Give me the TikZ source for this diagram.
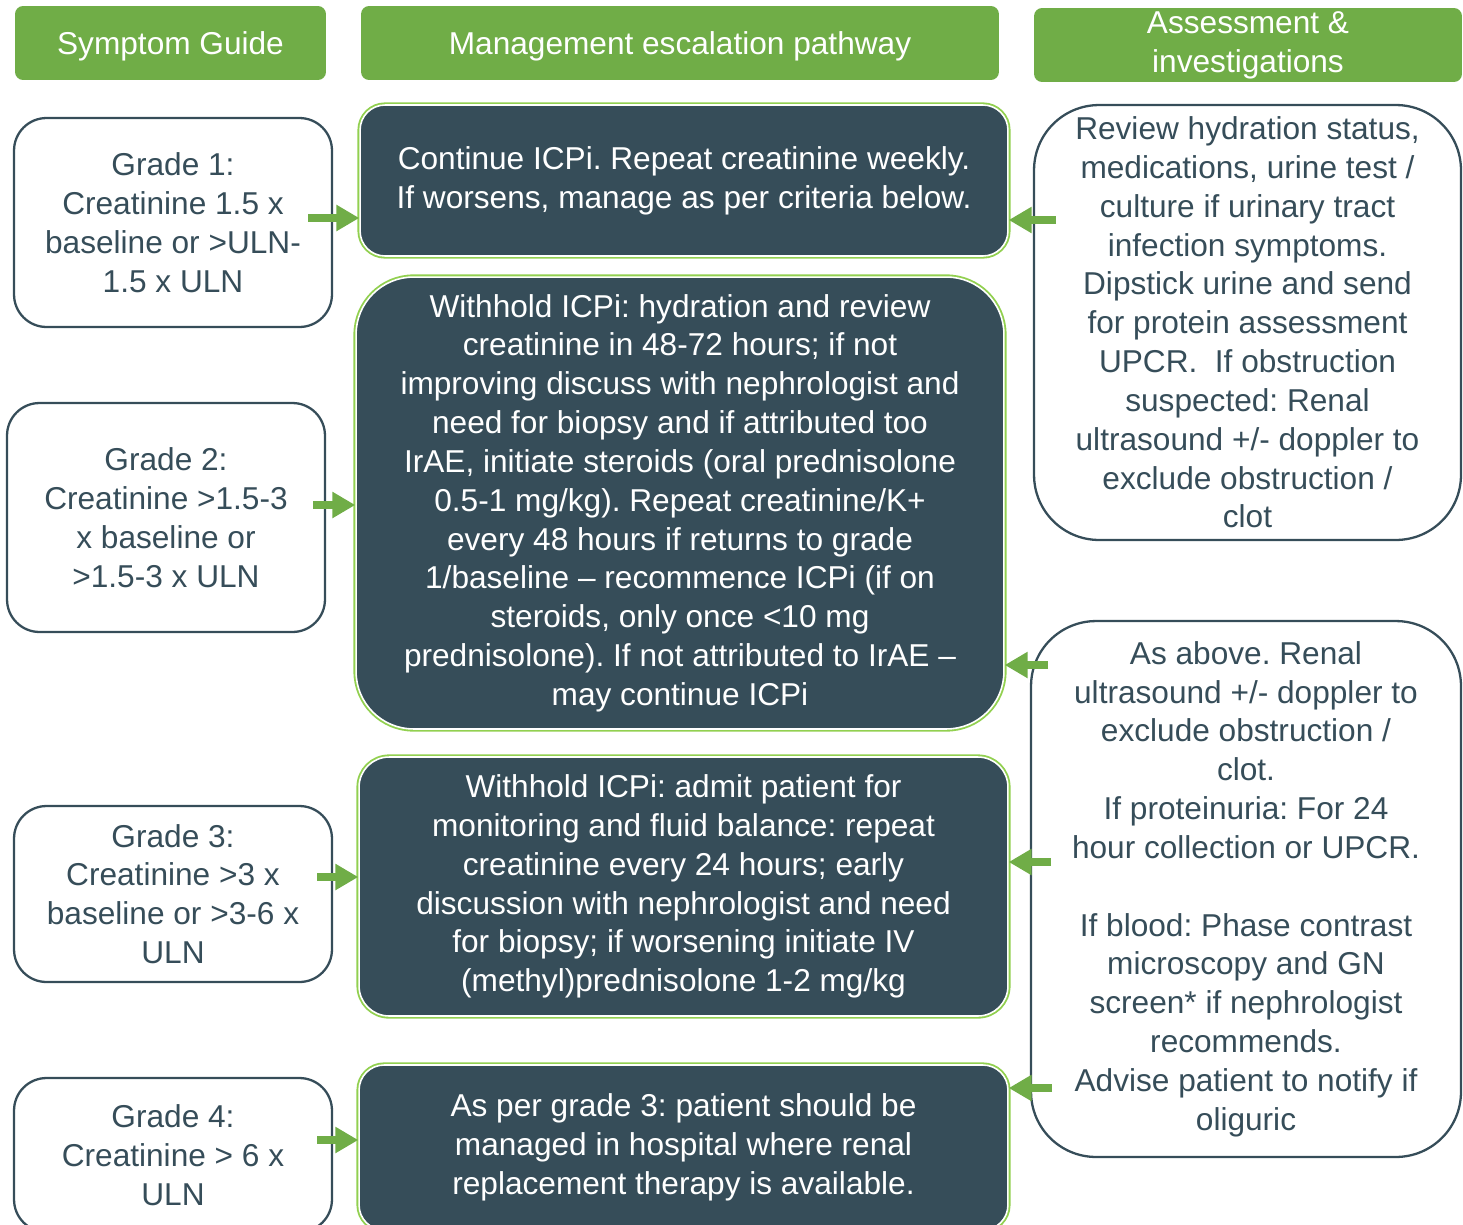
\documentclass[tikz,border=0pt]{standalone}
\usepackage{fontspec}
\setmainfont{Liberation Sans}
\usetikzlibrary{arrows.meta}
\definecolor{hdrgreen}{HTML}{70AD47}
\definecolor{slate}{HTML}{364D59}
\definecolor{limeline}{HTML}{92D050}
\frenchspacing
\begin{document}
\begin{tikzpicture}[x=0.02cm,y=-0.02cm,
  every node/.style={font=\fontsize{18}{22.1}\selectfont,align=center,inner sep=0pt},
  header/.style={fill=hdrgreen,text=white,rounded corners=0.16cm,minimum height=1.48cm},
  grade/.style={draw=slate,line width=1.3pt,text=slate,rounded corners=0.65cm,minimum width=6.36cm},
  mgmt/.style={fill=slate,draw=white,line width=0.9pt,text=white,
    preaction={draw=limeline,line width=3pt}},
  assess/.style={draw=slate,line width=1.3pt,text=slate,rounded corners=1.3cm},
  arr/.style={draw=hdrgreen,line width=4.5pt,-{Triangle[length=0.46cm,width=0.5cm]}}]
  \useasboundingbox (0,0) rectangle (1463,1224);

  \node[header,text depth=0pt,minimum width=6.22cm] (hsym) at (170.5,43) {Symptom Guide};
  \node[header,text depth=0pt,minimum width=12.76cm] (hman) at (680,43) {Management escalation pathway};
  \node[header,minimum width=8.56cm] (hass) at (1248,45) {Assessment \&\\investigations};

  \node[grade,minimum height=4.18cm] (g1) at (173,222.5)
    {Grade 1:\\Creatinine 1.5 x\\baseline or >ULN-\\1.5 x ULN};
  \node[grade,minimum height=4.58cm] (g2) at (166,517.5)
    {Grade 2:\\Creatinine >1.5-3\\x baseline or\\>1.5-3 x ULN};
  \node[grade,minimum height=3.52cm] (g3) at (173,894)
    {Grade 3:\\Creatinine >3 x\\baseline or >3-6 x\\ULN};
  \node[grade,minimum height=3.08cm] (g4) at (173,1155)
    {Grade 4:\\Creatinine > 6 x\\ULN};

  \node[mgmt,rounded corners=0.5cm,minimum width=12.96cm,minimum height=3.02cm] (m1) at (684,180.5)
    {Continue ICPi. Repeat creatinine weekly.\\If worsens, manage as per criteria below.};
  \node[mgmt,rounded corners=1.15cm,minimum width=12.96cm,minimum height=9.04cm] (m2) at (680,503)
    {Withhold ICPi: hydration and review\\creatinine in 48-72 hours; if not\\improving discuss with nephrologist and\\need for biopsy and if attributed too\\IrAE, initiate steroids (oral prednisolone\\0.5-1 mg/kg). Repeat creatinine/K+\\every 48 hours if returns to grade\\1/baseline – recommence ICPi (if on\\steroids, only once <10 mg\\prednisolone). If not attributed to IrAE –\\may continue ICPi};
  \node[mgmt,rounded corners=0.6cm,minimum width=12.98cm,minimum height=5.18cm] (m3) at (683.5,886.5)
    {Withhold ICPi: admit patient for\\monitoring and fluid balance: repeat\\creatinine every 24 hours; early\\discussion with nephrologist and need\\for biopsy; if worsening initiate IV\\(methyl)prednisolone 1-2 mg/kg};
  \node[mgmt,rounded corners=0.5cm,minimum width=12.98cm,minimum height=3.3cm] (m4) at (683.5,1147.5)
    {As per grade 3: patient should be\\managed in hospital where renal\\replacement therapy is available.};

  \node[assess,minimum width=8.54cm,minimum height=8.7cm] (r1) at (1247.5,322.5)
    {Review hydration status,\\medications, urine test /\\culture if urinary tract\\infection symptoms.\\Dipstick urine and send\\for protein assessment\\UPCR.\ \ If obstruction\\suspected: Renal\\ultrasound +/- doppler to\\exclude obstruction /\\clot};
  \node[assess,minimum width=8.6cm,minimum height=10.72cm] (r2) at (1246,889)
    {As above. Renal\\ultrasound +/- doppler to\\exclude obstruction /\\clot.\\If proteinuria: For 24\\hour collection or UPCR.\\[22.1pt]If blood: Phase contrast\\microscopy and GN\\screen* if nephrologist\\recommends.\\Advise patient to notify if\\oliguric};

  \foreach \n/\x/\y in {1/308/218,2/313/505,3/317/877,4/317/1140}
  {
    \coordinate (la\n) at (\x,\y);
    \draw[arr] (la\n) -- (la\n -| m\n.west);
  }
  \foreach \m/\x/\y in {m1/1056/220,m2/1048/665,m3/1051/862,m4/1052/1088}
  {
    \coordinate (ra\m) at (\x,\y);
    \draw[arr] (ra\m) -- (ra\m -| \m.east);
  }
\end{tikzpicture}
\end{document}
